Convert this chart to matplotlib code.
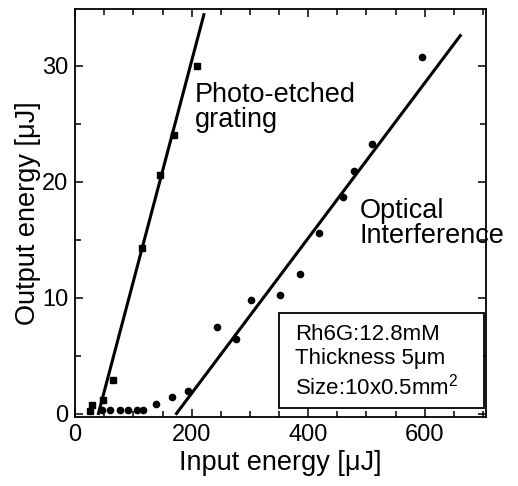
import numpy as np
import matplotlib
matplotlib.use("Agg")
import matplotlib.pyplot as plt
from matplotlib.patches import Rectangle
from matplotlib.ticker import MultipleLocator

plt.rcParams['font.family'] = ['Liberation Sans', 'DejaVu Sans']
plt.rcParams['mathtext.fontset'] = 'custom'
plt.rcParams['mathtext.rm'] = 'Liberation Sans'

# photo-etched grating samples (square markers)
pe_in = [26, 29, 48, 65, 115, 146, 170, 209]
pe_out = [0.2, 0.7, 1.2, 2.9, 14.3, 20.6, 24.0, 30.0]

# optical interference samples (round markers)
oi_in = [46, 60, 77, 91, 106, 117, 139, 167, 193, 244, 276, 302, 352,
         386, 419, 460, 479, 510, 596]
oi_out = [0.3, 0.3, 0.3, 0.3, 0.3, 0.3, 0.85, 1.4, 1.9, 7.5, 6.4, 9.8, 10.2,
          12.0, 15.6, 18.7, 20.9, 23.2, 30.7]

# linear fits: threshold [uJ], slope, end of drawn line [uJ]
pe_thr, pe_slope, pe_end = 40, 0.19, 221
oi_thr, oi_slope, oi_end = 174, 0.0669, 661

fig = plt.figure(figsize=(5.18, 4.86), dpi=100)
ax = fig.add_axes([0.145, 0.142, 0.793, 0.840])

x = np.array([pe_thr, pe_end])
ax.plot(x, pe_slope * (x - pe_thr), color='black', lw=2.2)
x = np.array([oi_thr, oi_end])
ax.plot(x, oi_slope * (x - oi_thr), color='black', lw=2.2)

ax.plot(pe_in, pe_out, 's', color='black', ms=4.5, clip_on=False)
ax.plot(oi_in, oi_out, 'o', color='black', ms=4.5, clip_on=False)

ax.set_xlim(0, 705)
ax.set_ylim(-0.3, 34.9)
ax.xaxis.set_major_locator(MultipleLocator(200))
ax.xaxis.set_minor_locator(MultipleLocator(50))
ax.yaxis.set_major_locator(MultipleLocator(10))
ax.yaxis.set_minor_locator(MultipleLocator(5))
ax.tick_params(which='both', direction='in', top=True, right=True,
               labelsize=17, width=1.1, pad=5)
ax.tick_params(which='major', length=6)
ax.tick_params(which='minor', length=4)
for s in ax.spines.values():
    s.set_linewidth(1.3)

ax.set_xlabel('Input energy [μJ]', fontsize=19.5, labelpad=3)
ax.set_ylabel('Output energy [μJ]', fontsize=19.5, labelpad=1)

ax.text(0.292, 0.757, 'Photo-etched\ngrating', transform=ax.transAxes,
        fontsize=19.5, va='center', ha='left', linespacing=0.95)
ax.text(0.693, 0.473, 'Optical\nInterference', transform=ax.transAxes,
        fontsize=19.5, va='center', ha='left', linespacing=0.95,
        clip_on=False)

ax.add_patch(Rectangle((0.496, 0.022), 0.499, 0.233, transform=ax.transAxes,
                       fill=True, facecolor='white', edgecolor='black',
                       lw=1.3, zorder=3))
ax.text(0.535, 0.136,
        'Rh6G:12.8mM\nThickness 5μm\nSize:10x0.5mm$^{2}$',
        transform=ax.transAxes, fontsize=16, va='center', ha='left',
        linespacing=1.2, zorder=4)

fig.savefig('out.png', dpi=100)
